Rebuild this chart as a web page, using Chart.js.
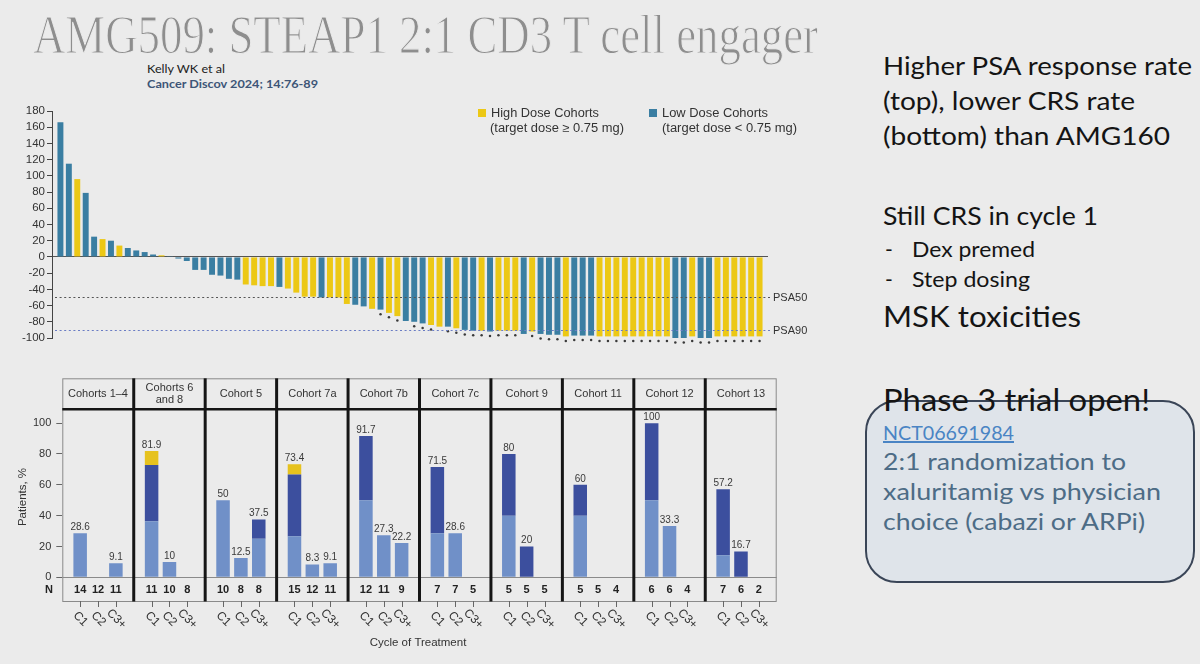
<!DOCTYPE html>
<html><head><meta charset="utf-8">
<script src="https://cdn.jsdelivr.net/npm/chart.js@4.4.1/dist/chart.umd.min.js"></script>
<style>
html,body{margin:0;padding:0;background:#ebebeb;width:1200px;height:664px;overflow:hidden;position:relative;font-family:'Liberation Sans',Arial,sans-serif;}
.t{position:absolute;white-space:nowrap;transform-origin:left center;}
canvas{position:absolute;}
.r{font-family:Lato,'Open Sans',sans-serif;color:#141414;}
.b{font-family:Lato,'Open Sans',sans-serif;color:#4d6c86;}
#box{position:absolute;left:865px;top:400px;width:330px;height:183px;box-sizing:border-box;border:2px solid #3a4557;border-radius:32px;background:#dfe4ea;}
.sq{position:absolute;width:8px;height:8px;}
</style></head><body>

<div class="t" data-w="785" data-cy="36.5" data-fs="54" style="font-family:'Liberation Serif',serif;color:#8e8e8e;-webkit-text-stroke:1.1px #ebebeb;">AMG509: STEAP1 2:1 CD3 T cell engager</div>
<div class="t" data-w="78" data-cy="69" data-fs="12" style="left:147px;font-family:Lato,sans-serif;color:#222;">Kelly WK et al</div>
<div class="t" data-w="171" data-cy="84" data-fs="12" style="left:147px;font-family:Lato,sans-serif;color:#3d5577;font-weight:bold;">Cancer Discov 2024; 14:76-89</div>

<canvas id="wf" width="830" height="260" style="left:0;top:95px;"></canvas>
<div class="sq" style="left:478px;top:109px;background:#ECC815;"></div>
<div class="t" data-w="108" data-cy="113" data-fs="12" style="left:491px;color:#333;">High Dose Cohorts</div>
<div class="t" data-w="134" data-cy="128.5" data-fs="12" style="left:490px;color:#333;">(target dose ≥ 0.75 mg)</div>
<div class="sq" style="left:649px;top:109px;background:#3A7EA2;"></div>
<div class="t" data-w="106" data-cy="113" data-fs="12" style="left:662px;color:#333;">Low Dose Cohorts</div>
<div class="t" data-w="135" data-cy="128.5" data-fs="12" style="left:662px;color:#333;">(target dose &lt; 0.75 mg)</div>

<canvas id="facet" width="800" height="294" style="left:0;top:370px;"></canvas>

<div class="t r" data-w="309" data-cy="66" data-fs="25" style="left:883px;">Higher PSA response rate</div>
<div class="t r" data-w="252" data-cy="101.7" data-fs="25" style="left:883px;">(top), lower CRS rate</div>
<div class="t r" data-w="287" data-cy="136.7" data-fs="25" style="left:883px;">(bottom) than AMG160</div>
<div class="t r" data-w="215" data-cy="216.7" data-fs="25" style="left:883px;">Still CRS in cycle 1</div>
<div class="t r" data-cy="249.3" data-fs="21" style="left:885px;">-</div>
<div class="t r" data-w="123" data-cy="249.3" data-fs="21" style="left:912px;">Dex premed</div>
<div class="t r" data-cy="279.3" data-fs="21" style="left:885px;">-</div>
<div class="t r" data-w="118" data-cy="279.3" data-fs="21" style="left:912px;">Step dosing</div>
<div class="t r" data-w="198" data-cy="316.7" data-fs="29" style="left:883px;">MSK toxicities</div>

<div id="box"></div>
<div class="t r" data-w="267" data-cy="400" data-fs="30" style="left:883px;">Phase 3 trial open!</div>
<div class="t" data-w="131" data-cy="433" data-fs="20" style="left:883px;font-family:Lato,sans-serif;color:#4a84c4;text-decoration:underline;">NCT06691984</div>
<div class="t b" data-w="243" data-cy="461.7" data-fs="23" style="left:883px;">2:1 randomization to</div>
<div class="t b" data-w="278" data-cy="491.7" data-fs="23" style="left:883px;">xaluritamig vs physician</div>
<div class="t b" data-w="262" data-cy="521.7" data-fs="23" style="left:883px;">choice (cabazi or ARPi)</div>

<script>
// ---------- Waterfall data ----------
const waterfallValues = [166,115,96,79,25,22,20,14,11,8,6,3,2,1,
  -2,-5,-16,-16,-22,-23,-27,-28,
  -34,-35,-36,-36,-37,-39,-44,-49,-49,-50,-50,-50,
  -58,-59,-61,-64,-65,-69,-73,
  -79,-80,-82,-84,-86,-86,-88,
  -90,-91,-91,-92,-91,-91,-91,
  -95,-92,-95,-96,-96,
  -98,-97,-97,-97,
  -98,-98,-98,-98,-98,-98,-98,-98,-98,
  -100,-100,-98,-100,-100,
  -98,-98,-98,-98,-98,-98];
const doseGroup = ['L','L','H','L','L','H','L','H','L','L','L','L','H','L',
  'L','L','L','L','L','L','L','L',
  'H','H','H','H','L','H','H','H','H','L','H','H','H',
  'L','L','H','L','H','H',
  'L','L','L','H','H','L','H',
  'L','L','H','L','H','H','H',
  'L','H','L','L','L',
  'H','L','L','L',
  'H','H','H','H','H','H','H','H','H',
  'L','L','H','L','L',
  'H','H','H','H','H','H'];
const markedBars = [39,40,41,43,44,45,47,48,49,50,51,52,53,54,55,
  57,58,59,60,61,62,63,64,65,66,67,68,69,70,71,72,73,74,75,76,77,78,79,80,81,82,83,84];
const psaThresholds = [-50,-90];
const psaLabels = ['PSA50','PSA90'];
const waterfallYTicks = {min:-100, max:180, step:20};

// ---------- Facet (CRS) data ----------
const cohorts = ['Cohorts 1–4',['Cohorts 6','and 8'],'Cohort 5','Cohort 7a','Cohort 7b','Cohort 7c','Cohort 9','Cohort 11','Cohort 12','Cohort 13'];
const cycles = ['C1','C2','C3+'];
const grade1 = [28.6,0,9.1, 36.4,10,0, 50,12.5,25, 26.7,8.3,9.1, 50,27.3,22.2, 28.6,28.6,0, 40,0,0, 40,0,0, 50,33.3,0, 14.3,0,0];
const grade2 = [0,0,0, 36.4,0,0, 0,0,12.5, 40,0,0, 41.7,0,0, 42.9,0,0, 40,20,0, 20,0,0, 50,0,0, 42.9,16.7,0];
const grade3 = [0,0,0, 9.1,0,0, 0,0,0, 6.7,0,0, 0,0,0, 0,0,0, 0,0,0, 0,0,0, 0,0,0, 0,0,0];
const patientsN = [14,12,11, 11,10,8, 10,8,8, 15,12,11, 12,11,9, 7,7,5, 5,5,5, 5,5,4, 6,6,4, 7,6,2];

const YEL = '#ECC815', BLU = '#3A7EA2';
const G1 = '#7090C8', G2 = '#3C4F9E', G3 = '#E6C21E';

// ---------- text placement ----------
function placeText(){
  document.querySelectorAll('.t').forEach(el=>{
    const fs = +el.dataset.fs, cy = +el.dataset.cy;
    el.style.fontSize = fs+'px';
    el.style.lineHeight = fs+'px';
    el.style.top = (cy - 0.53*fs)+'px';
    if(!el.style.left) el.style.left='33px';
    if(el.dataset.w){
      el.style.transform='none';
      const w = el.getBoundingClientRect().width;
      el.style.transform = 'scaleX('+(+el.dataset.w/w)+')';
    }
  });
}
placeText();
if(document.fonts && document.fonts.ready) document.fonts.ready.then(placeText);

Chart.defaults.font.family = "'Liberation Sans', Arial, sans-serif";
Chart.defaults.color = '#333';

// ---------- Waterfall chart ----------
const wfPlugin = {
  id:'wfExtras',
  afterDatasetsDraw(chart){
    const {ctx, chartArea:a, scales:{y}} = chart;
    const meta = chart.getDatasetMeta(0);
    ctx.save();
    ctx.fillStyle = '#3a3a3a';
    markedBars.forEach(n=>{
      const el = meta.data[n-1];
      if(!el) return;
      ctx.beginPath(); ctx.arc(el.x, el.y+4.5, 1.25, 0, Math.PI*2); ctx.fill();
    });
    const cols = ['#555','#6a7cc4'];
    psaThresholds.forEach((v,i)=>{
      const py = Math.round(y.getPixelForValue(v))+0.5;
      ctx.strokeStyle = cols[i]; ctx.lineWidth = 1.2; ctx.setLineDash([2,2.6]);
      ctx.beginPath(); ctx.moveTo(a.left+3, py); ctx.lineTo(a.right+2, py); ctx.stroke();
      ctx.setLineDash([]);
      ctx.fillStyle = '#333'; ctx.font = "11px 'Liberation Sans', Arial";
      ctx.textAlign='left'; ctx.textBaseline='middle';
      ctx.fillText(psaLabels[i], a.right+5, py);
    });
    ctx.restore();
  }
};

new Chart(document.getElementById('wf'), {
  type:'bar',
  data:{datasets:[{
    data: waterfallValues.map((v,i)=>({x:i, y:v})),
    backgroundColor: doseGroup.map(g=> g==='H'?YEL:BLU),
    barPercentage:0.82, categoryPercentage:0.86, borderWidth:0
  }]},
  options:{
    responsive:false, animation:false, devicePixelRatio:1,
    layout:{padding:{left:0,right:62,top:16,bottom:17}},
    plugins:{legend:{display:false}, tooltip:{enabled:false}},
    scales:{
      x:{type:'linear', min:-1, max:waterfallValues.length, offset:false, display:false},
      y:{min:waterfallYTicks.min, max:waterfallYTicks.max,
        afterFit(s){ s.width = 52; },
        ticks:{stepSize:waterfallYTicks.step, autoSkip:false, color:'#333', font:{size:11.5}, padding:2},
        grid:{color:c=> (c.tick && c.tick.value===0) ? '#555' : 'rgba(0,0,0,0)', tickColor:'#444', tickLength:5, lineWidth:1},
        border:{display:true, color:'#444', width:1}
      }
    }
  },
  plugins:[wfPlugin]
});

// ---------- Facet chart ----------
const xPos = i => 4*Math.floor(i/3) + (i%3) + 1;
const facetPlugin = {
  id:'facetExtras',
  afterDraw(chart){
    const {ctx, chartArea:a, scales:{x,y}} = chart;
    const top = a.top - 31, bottom = a.bottom + 23.7;
    const line=(x1,y1,x2,y2)=>{ctx.beginPath();ctx.moveTo(x1,y1);ctx.lineTo(x2,y2);ctx.stroke();};
    ctx.save();
    ctx.strokeStyle='#8a8a8a'; ctx.lineWidth=1;
    ctx.strokeRect(a.left+0.5, top+0.5, a.right-a.left-1, bottom-top);
    line(a.left, Math.round(a.bottom)+0.5, a.right, Math.round(a.bottom)+0.5);
    ctx.strokeStyle='#151515'; ctx.lineWidth=2.5;
    line(a.left, a.top, a.right, a.top);
    ctx.lineWidth=3;
    for(let p=1;p<cohorts.length;p++){ const X=x.getPixelForValue(4*p); line(X, top, X, bottom+0.5); }
    ctx.fillStyle='#333'; ctx.font="11px 'Liberation Sans', Arial"; ctx.textAlign='center'; ctx.textBaseline='middle';
    const hc = (top + a.top)/2;
    cohorts.forEach((c,p)=>{
      const X = x.getPixelForValue(4*p+2);
      if(Array.isArray(c)){ ctx.fillText(c[0], X, hc-6); ctx.fillText(c[1], X, hc+6); }
      else ctx.fillText(c, X, hc);
    });
    ctx.font="10px 'Liberation Sans', Arial"; ctx.fillStyle='#3a3a3a';
    grade1.forEach((g,i)=>{
      const tot = Math.round((g+grade2[i]+grade3[i])*10)/10;
      if(tot>0) ctx.fillText(String(tot), x.getPixelForValue(xPos(i)), y.getPixelForValue(tot)-6);
    });
    const ny = (a.bottom + bottom)/2 + 0.5;
    ctx.font="bold 11px 'Liberation Sans', Arial"; ctx.fillStyle='#222';
    patientsN.forEach((n,i)=> ctx.fillText(String(n), x.getPixelForValue(xPos(i)), ny));
    ctx.fillText('N', 49, ny);
    ctx.strokeStyle='#666'; ctx.lineWidth=1;
    grade1.forEach((g,i)=>{
      const X = Math.round(x.getPixelForValue(xPos(i)))+0.5;
      line(X, bottom, X, bottom+6);
      ctx.save();
      ctx.translate(X, bottom+18); ctx.rotate(Math.PI/4);
      ctx.font="12px 'Liberation Sans', Arial"; ctx.fillStyle='#333'; ctx.textAlign='center';
      ctx.fillText(cycles[i%3], 0, 0);
      ctx.restore();
    });
    ctx.font="11.5px 'Liberation Sans', Arial"; ctx.fillStyle='#333'; ctx.textAlign='center';
    ctx.fillText('Cycle of Treatment', 418, 273);
    ctx.save(); ctx.translate(23, 127); ctx.rotate(-Math.PI/2);
    ctx.fillText('Patients, %', 0, 0); ctx.restore();
    ctx.restore();
  }
};

new Chart(document.getElementById('facet'), {
  type:'bar',
  data:{datasets:[
    {label:'Grade 1', data:grade1.map((v,i)=>({x:xPos(i), y:v})), backgroundColor:G1},
    {label:'Grade 2', data:grade2.map((v,i)=>({x:xPos(i), y:v})), backgroundColor:G2},
    {label:'Grade 3', data:grade3.map((v,i)=>({x:xPos(i), y:v})), backgroundColor:G3}
  ]},
  options:{
    responsive:false, animation:false, devicePixelRatio:1,
    datasets:{bar:{barPercentage:0.87, categoryPercentage:0.87, borderWidth:0}},
    layout:{padding:{left:0,right:23.3,top:39.3,bottom:86.7}},
    plugins:{legend:{display:false}, tooltip:{enabled:false}},
    scales:{
      x:{type:'linear', min:0, max:4*cohorts.length, offset:false, stacked:true, display:false},
      y:{min:0, max:109, stacked:true,
        afterFit(s){ s.width = 62.3; },
        afterBuildTicks(s){ s.ticks = s.ticks.filter(t=> t.value%20===0); },
        ticks:{stepSize:20, autoSkip:false, color:'#333', font:{size:11}, padding:5},
        grid:{drawOnChartArea:false, tickLength:6, tickColor:'#666'},
        border:{display:false}
      }
    }
  },
  plugins:[facetPlugin]
});
</script>
</body></html>
